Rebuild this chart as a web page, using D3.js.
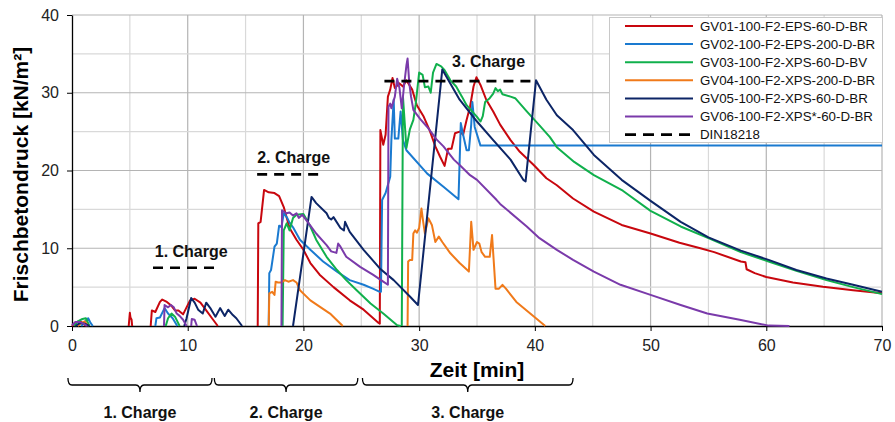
<!DOCTYPE html>
<html><head><meta charset="utf-8">
<script src="https://cdn.jsdelivr.net/npm/d3@7"></script>
<style>body{margin:0;background:#fff}svg{display:block}text{font-family:"Liberation Sans",Arial,sans-serif}</style>
</head><body>
<svg id="c" width="895" height="422"></svg>
<script>
// ---------- data (time in min, pressure in kN/m²) ----------
const seriesNames = ["GV01-100-F2-EPS-60-D-BR","GV02-100-F2-EPS-200-D-BR","GV03-100-F2-XPS-60-D-BV","GV04-100-F2-XPS-200-D-BR","GV05-100-F2-XPS-60-D-BR","GV06-100-F2-XPS*-60-D-BR"];
const seriesColors = ["#c8070e","#1a7ad0","#10b04c","#f07a1a","#0c2566","#7a3aaa"];
const xTicks = [0,10,20,30,40,50,60,70];
const yTicks = [0,10,20,30,40];

const gv01 = [[0,0],[0.3,0.5],[0.7,0.6],[1.0,0.3],[1.2,0],null,
 [4.9,0],[5.0,1.7],[5.05,1.1],[5.15,0.8],[5.2,0],null,
 [6.8,0],[6.9,2.0],[7.2,1.8],[7.6,3.1],[7.8,3.4],[8.2,3.1],[8.6,2.6],[8.9,2.0],[9.2,2.0],[9.6,1.5],[10.2,3.3],[10.6,3.5],[11.1,3.0],[11.6,2.0],[12.1,1.0],[12.6,0],null,
 [16.05,0],[16.1,13.2],[16.3,13.4],[16.6,17.5],[17.0,17.2],[17.5,17.1],[17.9,16.7],[18.3,15.3],[18.8,12.6],[19.4,11.1],[20.0,9.8],[20.6,8.1],[21.4,6.6],[22.6,5.0],[24.0,3.3],[25.2,2.1],[26.5,0.4],[26.6,0.3],
 [26.65,25.2],[26.9,23.3],[27.1,24.6],[27.3,29.5],[27.5,30.4],[27.7,31.9],[27.9,30.6],[28.3,31.2],[28.6,30.8],[28.9,31.6],[29.4,30.4],[29.8,28.4],[30.4,26.9],[30.9,25.2],[31.4,23.1],[31.8,21.8],[32.2,20.6],[32.5,22.8],[32.8,22.8],[33.1,24.8],[33.5,25.0],[33.8,24.6],[34.1,26.5],[34.4,28.2],[34.7,30.8],[34.95,32.0],
 [35.3,31.0],[35.8,29.1],[36.4,27.6],[37.0,25.9],[37.9,23.9],[38.7,22.4],[39.9,20.7],[41.0,19.0],[41.9,18.1],[43.3,16.4],[45.1,14.7],[47.5,13.0],[50.0,11.9],[52.5,10.7],[54.3,10.0],[55.5,9.5],[57.8,8.3],[58.2,8.2],[58.3,7.3],[59.0,6.8],[60.0,6.3],[62.3,5.6],[64.9,5.05],[67.5,4.6],[70,4.2]];

const gv02 = [[0.8,0],[1.1,0.5],[1.4,1.0],[1.6,0.4],[1.8,0],null,
 [7.2,0],[7.3,1.0],[7.6,1.1],[8.0,2.3],[8.3,1.6],[8.7,1.0],[9.1,0],null,
 [17.0,0],[17.05,6.8],[17.2,7.2],[17.5,10.2],[17.7,10.6],[17.9,12.9],[18.1,12.7],[18.3,14.5],[18.6,13.9],[18.8,13.3],[19.1,12.7],[19.7,11.1],[20.6,9.8],[21.7,8.3],[22.9,7.0],[24.0,5.9],[25.2,5.3],[26.0,4.8],[26.6,4.4],[26.7,4.4],
 [26.8,16.2],[27.1,17.1],[27.5,19.2],[27.6,23.9],[27.8,29.1],[27.9,24.1],[28.2,24.1],[28.4,27.6],[28.6,23.9],[28.9,22.6],[30.7,19.6],[32.1,17.9],[33.4,16.3],[33.6,26.1],[33.8,24.6],[34.1,22.6],[34.3,22.6],[34.5,25.9],[34.6,28.8],[34.8,25.6],[35.3,23.2],[70,23.2]];

const gv03 = [[0.2,0],[0.5,0.6],[0.9,0.9],[1.2,1.0],[1.5,0],null,
 [8.1,0],[8.3,1.0],[8.6,1.6],[8.9,1.2],[9.3,0],null,
 [18.2,0],[18.3,12.3],[18.55,13.2],[18.8,12.3],[19.1,13.9],[19.4,14.3],[20.0,14.4],[20.2,13.9],[20.6,12.8],[21.1,11.1],[22.0,8.9],[22.9,7.2],[23.7,5.9],[24.6,4.6],[25.8,2.9],[26.9,1.6],[28.1,0.1],[28.4,0],null,
 [28.5,0],[28.6,29.5],[28.9,22.9],[29.2,25.3],[29.5,26.5],[29.7,28.5],[30.0,32.6],[30.3,32.3],[30.5,30.7],[30.8,30.8],[31.0,30.0],[31.2,32.6],[31.5,33.7],[31.9,33.4],[32.2,32.9],[32.7,31.6],[33.2,30.8],[33.7,29.5],[34.1,28.4],[35.0,26.9],[35.3,26.3],[35.5,27.0],[35.7,28.8],[36.1,29.3],[36.4,29.9],[36.6,30.6],[36.8,30.2],[37.0,30.4],[37.2,29.8],[37.9,29.5],[38.3,29.3],[39.3,27.6],[40.4,25.8],[41.3,24.3],[41.9,23.0],[43.4,21.1],[45.1,19.4],[47.6,17.4],[50.0,14.8],[52.6,12.8],[55.0,11.3],[57.8,9.5],[60.2,8.3],[62.6,7.1],[65.2,5.9],[67.5,5.0],[70,4.1]];

const gv04 = [[0.5,0],[0.8,0.4],[1.1,0.6],[1.4,0],null,
 [17.0,0],[17.05,4.2],[17.3,4.4],[17.5,4.0],[17.6,5.7],[17.8,5.6],[18.1,5.6],[18.4,5.9],[18.7,5.7],[19.1,5.9],[19.4,5.6],[19.7,4.6],[20.6,3.3],[21.4,2.5],[22.3,1.6],[23.4,0],null,
 [29.0,0],[29.05,8.3],[29.2,8.5],[29.4,8.5],[29.5,11.9],[29.65,12.3],[29.8,12.0],[30.0,12.6],[30.2,15.1],[30.35,13.4],[30.5,11.9],[30.8,13.85],[31.1,13.0],[31.4,10.8],[31.7,11.5],[32.0,10.8],[32.7,9.35],[33.5,8.1],[34.3,7.0],[34.5,13.4],[34.7,9.8],[35.0,10.8],[35.2,10.6],[35.4,9.5],[35.7,8.9],[36.1,8.9],[36.3,11.7],[36.6,4.8],[36.9,4.8],[37.2,5.3],[37.5,4.8],[38.4,3.1],[39.6,1.6],[40.9,0]];

const gv05 = [[0.3,0],[0.7,0.4],[1.1,0.3],[1.5,0],null,
 [9.7,0],[9.9,1.0],[10.3,3.6],[10.6,3.0],[10.9,2.1],[11.3,1.6],[11.6,3.0],[12.0,2.2],[12.4,1.2],[12.8,2.3],[13.2,1.3],[13.5,2.1],[13.9,1.4],[14.2,1.0],[14.7,0],null,
 [19.1,0],[20.7,16.6],[21.1,15.8],[22.0,14.5],[22.2,13.9],[22.4,13.7],[22.6,14.0],[23.2,12.6],[23.5,12.3],[23.6,13.4],[24.0,12.1],[25.2,9.8],[26.6,7.4],[27.8,5.9],[29.2,3.8],[29.9,2.7],
 [32.0,33.0],[33.5,29.1],[35.0,26.3],[36.4,23.9],[37.9,21.4],[39.0,18.8],[39.2,18.6],[40.1,31.6],[41.0,29.1],[41.9,27.1],[43.3,25.2],[45.1,22.0],[47.5,18.8],[50.0,16.1],[52.6,13.4],[55.0,11.4],[57.8,9.7],[60.2,8.5],[62.6,7.2],[65.2,6.1],[67.5,5.3],[70,4.4]];

const gv06 = [[0,0.1],[0.3,0.5],[0.7,0.5],[1.0,0.3],[1.3,0],null,
 [7.95,0],[8.0,2.7],[8.3,2.4],[8.55,2.7],[8.8,2.4],[9.05,1.6],[9.3,1.3],[9.6,0.8],[9.9,0],null,
 [10.3,0],[10.35,0.9],[10.6,0.8],[10.8,0],null,
 [18.1,0],[18.15,14.9],[18.3,14.7],[18.55,14.5],[18.8,14.6],[19.1,14.2],[19.4,14.5],[19.6,13.9],[19.9,14.3],[20.1,13.9],[20.6,12.9],[21.1,11.9],[22.0,10.4],[22.4,9.6],[22.85,9.4],[23.0,10.6],[23.2,10.2],[23.7,8.9],[24.9,7.6],[26.0,6.6],[26.9,5.7],[27.3,5.3],
 [27.35,28.2],[27.5,28.6],[27.6,28.0],[27.9,29.5],[28.1,31.8],[28.3,30.6],[28.5,28.0],[28.7,31.0],[28.9,33.5],[29.0,34.4],[29.15,31.2],[29.3,29.5],[29.5,27.8],[30.1,26.6],[30.7,25.6],[31.5,24.0],[32.1,23.1],[33.0,21.4],[33.5,20.7],[34.4,19.4],[35.0,18.8],[36.7,16.2],[37.0,15.7],[39.3,12.8],[40.4,11.3],[41.9,9.8],[43.3,8.5],[45.1,7.0],[47.4,5.3],[50.0,4.0],[52.6,2.7],[54.9,1.6],[57.7,0.8],[60.2,0.05],[62.0,0]];

const seriesData = [gv01, gv02, gv03, gv04, gv05, gv06];

// DIN 18218 reference levels per charge: [tStart, tEnd, value]
const dinLines = [[7.0,12.5,7.5],[16.0,21.5,19.5],[27.0,40.1,31.5]];
const dinName = "DIN18218";
const chargeLabels = ["1. Charge","2. Charge","3. Charge"];
const chargeLabelPos = [[7.15,8.9],[16.0,21.0],[32.85,33.35]];
const braceRanges = [[-0.35,12.1],[12.3,24.7],[25.1,43.3]];

// ---------- layout ----------
const svg = d3.select("#c");
const m = {l:72, r:882, t:15, b:326};
const x = d3.scaleLinear().domain([0,70]).range([m.l, m.r]);
const y = d3.scaleLinear().domain([0,40]).range([m.b, m.t]);

// grid
const g = svg.append("g");
d3.range(5,71,5).forEach(v=>{
  g.append("line").attr("x1",x(v)).attr("x2",x(v)).attr("y1",m.t).attr("y2",m.b)
   .attr("stroke", v%10===0 ? "#b4b4b4" : "#d9d9d9").attr("stroke-width",1.2);
});
d3.range(5,41,5).forEach(v=>{
  g.append("line").attr("x1",m.l).attr("x2",m.r).attr("y1",y(v)).attr("y2",y(v))
   .attr("stroke", v%10===0 ? "#b4b4b4" : "#d9d9d9").attr("stroke-width",1.2);
});

// axes
const xAxis = svg.append("g").attr("transform",`translate(0,${m.b})`)
  .call(d3.axisBottom(x).tickValues(xTicks).tickSize(5).tickPadding(9).tickSizeOuter(0));
const yAxis = svg.append("g").attr("transform",`translate(${m.l},0)`)
  .call(d3.axisLeft(y).tickValues(yTicks).tickSize(5).tickPadding(8).tickSizeOuter(0));
[xAxis,yAxis].forEach(a=>{
  a.select(".domain").attr("stroke","#000").attr("stroke-width",1.3);
  a.selectAll(".tick line").attr("stroke","#000");
  a.selectAll(".tick text").attr("font-size",16).attr("fill","#222")
   .attr("font-family","'Liberation Sans',Arial,sans-serif");
});

// series
const line = d3.line().defined(d=>d!==null).x(d=>x(d[0])).y(d=>y(d[1]));
seriesData.forEach((s,i)=>{
  svg.append("path").attr("d",line(s)).attr("fill","none")
    .attr("stroke",seriesColors[i]).attr("stroke-width",2).attr("stroke-linejoin","round");
});

// DIN lines
dinLines.forEach(d=>{
  svg.append("line").attr("x1",x(d[0])).attr("x2",x(d[1])).attr("y1",y(d[2])).attr("y2",y(d[2]))
    .attr("stroke","#000").attr("stroke-width",2.6).attr("stroke-dasharray","10,7");
});

// charge labels in chart
chargeLabels.forEach((t,i)=>{
  svg.append("text").attr("x",x(chargeLabelPos[i][0])).attr("y",y(chargeLabelPos[i][1]))
    .attr("font-size",16).attr("font-weight","bold").attr("fill","#111").text(t);
});

// axis titles
svg.append("text").attr("x",(m.l+m.r)/2).attr("y",377).attr("text-anchor","middle")
  .attr("font-size",21).attr("font-weight","bold").text("Zeit [min]");
svg.append("text").attr("transform",`translate(28,${(m.t+m.b)/2+4}) rotate(-90)`)
  .attr("text-anchor","middle").attr("font-size",21).attr("font-weight","bold").text("Frischbetondruck [kN/m²]");

// braces
braceRanges.forEach((r,i)=>{
  const x0=x(r[0]), x1=x(r[1]), cx=(x0+x1)/2, yt=378, ym=385, yb=392;
  const p=`M${x0},${yt} Q${x0},${ym} ${x0+4},${ym} L${cx-4},${ym} Q${cx},${ym} ${cx},${yb} Q${cx},${ym} ${cx+4},${ym} L${x1-4},${ym} Q${x1},${ym} ${x1},${yt}`;
  svg.append("path").attr("d",p).attr("fill","none").attr("stroke","#000").attr("stroke-width",1.3);
  svg.append("text").attr("x",cx).attr("y",418).attr("text-anchor","middle")
    .attr("font-size",16).attr("font-weight","bold").attr("fill","#111").text(chargeLabels[i]);
});

// legend
const lg = svg.append("g");
lg.append("rect").attr("x",609.5).attr("y",17.5).attr("width",273).attr("height",125)
  .attr("fill","#fff").attr("stroke","#c8c8c8").attr("stroke-width",1);
const legendItems = seriesNames.map((n,i)=>({n, c:seriesColors[i], dash:null}))
  .concat([{n:dinName, c:"#000", dash:"11,7"}]);
legendItems.forEach((it,i)=>{
  const yy = 26 + i*18.1;
  lg.append("line").attr("x1",625).attr("x2",it.dash?690:693).attr("y1",yy).attr("y2",yy)
    .attr("stroke",it.c).attr("stroke-width",it.dash?2.6:2).attr("stroke-dasharray",it.dash);
  lg.append("text").attr("x",700).attr("y",yy+4.6).attr("font-size",13.3).attr("fill","#111").text(it.n);
});
</script>
</body></html>
